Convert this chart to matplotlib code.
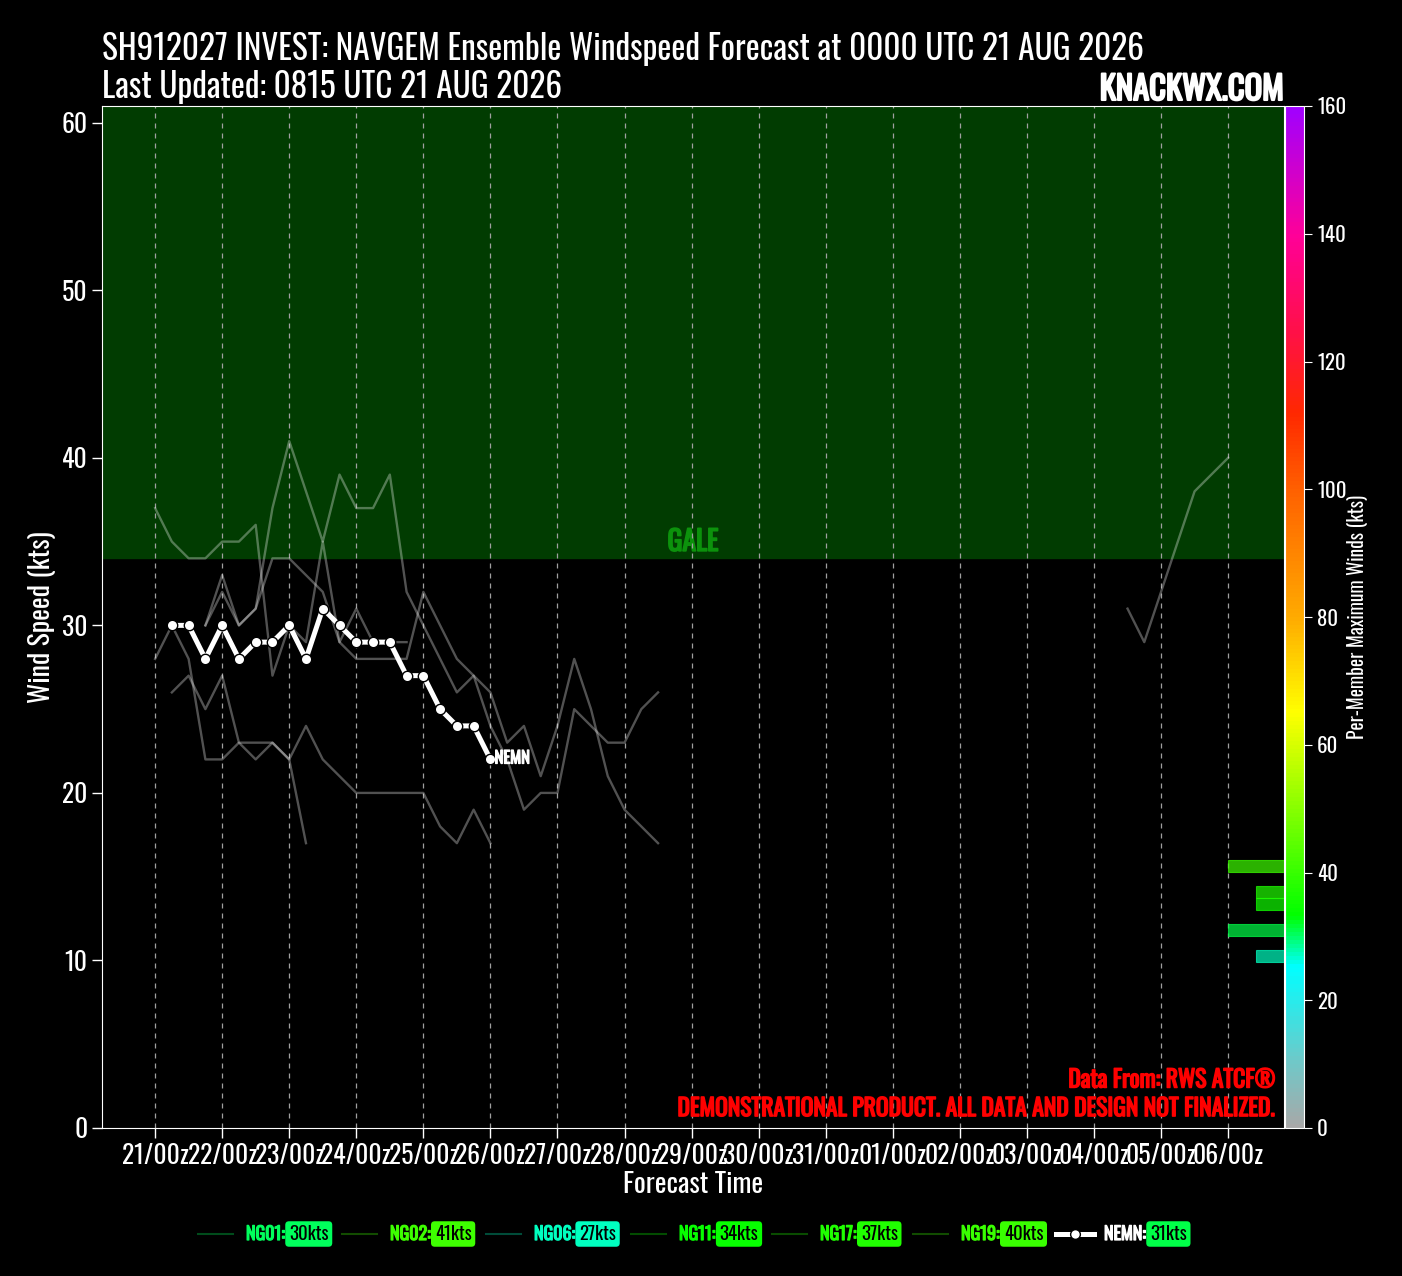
import numpy as np
import matplotlib
matplotlib.use('Agg')
import matplotlib.pyplot as plt
from matplotlib import font_manager as fm
from matplotlib.colors import LinearSegmentedColormap, Normalize
from matplotlib.lines import Line2D
import matplotlib.colorbar as mcolorbar
import matplotlib.patheffects as pe

# ---------------- data ----------------
member_names = ['NG01', 'NG02', 'NG06', 'NG11', 'NG17', 'NG19']
member_start = [0, 18, 6, 18, 0, 348]          # first forecast hour of each member
ng01 = [28, 30, 28, 22, 22, 23, 22, 23, 22, 17]
ng02 = [30, 32, 30, 31, 37, 41, 38, 35, 39, 37, 37, 39, 32, 30, 28, 26, 27, 24,
        22, 19, 20, 20, 25, 24, 23, 23, 25, 26]
ng06 = [26, 27, 25, 27, 23, 23, 23, 22, 24, 22, 21, 20, 20, 20, 20, 20, 18, 17, 19, 17]
ng11 = [30, 33, 30, 31, 34, 34, 33, 32, 29, 28, 28, 28, 28, 32, 30, 28, 27, 26,
        23, 24, 21, 24, 28, 25, 21, 19, 18, 17]
ng17 = [37, 35, 34, 34, 35, 35, 36, 27, 30, 29, 35, 29, 31, 29, 29, 29]
ng19 = [31, 29, 32, 35, 38, 39, 40]
member_winds = [ng01, ng02, ng06, ng11, ng17, ng19]

nemn_start = 6
nemn = [30, 30, 28, 30, 28, 29, 29, 30, 28, 31, 30, 29, 29, 29, 27, 27, 25, 24, 24, 22]

step_h = 6
day_labels = ['21/00z', '22/00z', '23/00z', '24/00z', '25/00z', '26/00z', '27/00z',
              '28/00z', '29/00z', '30/00z', '31/00z', '01/00z', '02/00z', '03/00z',
              '04/00z', '05/00z', '06/00z']
gale_threshold = 34
y_max = 61
cbar_max = 160
hist_bin = 2

title1 = 'SH912027 INVEST: NAVGEM Ensemble Windspeed Forecast at 0000 UTC 21 AUG 2026'
title2 = 'Last Updated: 0815 UTC 21 AUG 2026'

# ---------------- fonts ----------------
ttf = fm.fontManager.ttflist
names = {f.name for f in ttf}
FONT = None
STRETCH = 'normal'
for c in ['Oswald', 'Roboto Condensed', 'Open Sans Condensed', 'Liberation Sans Narrow',
          'Noto Sans Condensed', 'DejaVu Sans Condensed']:
    if c in names:
        FONT = c
        break
if FONT is None:
    for fam in ['Roboto', 'Noto Sans', 'Open Sans', 'DejaVu Sans']:
        if any(f.name == fam and str(f.stretch) in ('condensed', 'semi-condensed',
                                                     'extra-condensed') for f in ttf):
            FONT = fam
            STRETCH = 'condensed'
            break
if FONT is None:
    FONT = 'Roboto' if 'Roboto' in names else 'DejaVu Sans'

plt.rcParams['font.family'] = [FONT, 'DejaVu Sans']
plt.rcParams['font.stretch'] = STRETCH

HAS_BOLD = any(f.name == FONT and isinstance(f.weight, (int, float)) and f.weight >= 600
               for f in ttf) or any(f.name == FONT and str(f.weight) in ('bold', 'heavy', 'black', 'semibold', 'demibold') for f in ttf)


def bold(color, w=1.2):
    if HAS_BOLD:
        return dict(fontweight='bold')
    return dict(path_effects=[pe.withStroke(linewidth=w, foreground=color)])


# ---------------- colormap ----------------
stops = [(0, '#a8a8a8'), (10, '#70c8c8'), (25, '#00ffff'), (33, '#00ff00'),
         (65, '#ffff00'), (80, '#ffaa00'), (100, '#ff6000'), (112, '#ff2800'),
         (125, '#ff1048'), (140, '#ff0098'), (160, '#a000ff')]
cmap = LinearSegmentedColormap.from_list('wind', [(v / cbar_max, c) for v, c in stops])
norm = Normalize(0, cbar_max)

# ---------------- figure ----------------
fig = plt.figure(figsize=(14.02, 12.76), dpi=100, facecolor='black')
L, R, B, T = 102 / 1402, 1284 / 1402, 1 - 1128 / 1276, 1 - 106 / 1276
ax = fig.add_axes([L, B, R - L, T - B])
ax.set_facecolor('black')
cax = fig.add_axes([R + 1 / 1402, B, 19 / 1402, T - B])

last_hour = (len(day_labels) - 1) * 24
x_right = last_hour + 20
ax.set_xlim(-19, x_right)
ax.set_ylim(0, y_max)

ax.axhspan(gale_threshold, y_max, color='#013c01', zorder=0)
ax.text((-19 + x_right) / 2, gale_threshold + 0.15, 'GALE', color='#0c920c',
        fontsize=20, ha='center', va='bottom', zorder=1, **bold('#0c920c', 1.2))

for h in range(0, last_hour + 1, 24):
    ax.axvline(h, color='#a0a0a0', lw=0.9, ls=(0, (4, 4)), zorder=1)

for start, w in zip(member_start, member_winds):
    hrs = start + step_h * np.arange(len(w))
    ax.plot(hrs, w, color='white', alpha=0.32, lw=1.7, zorder=2)

nh = nemn_start + step_h * np.arange(len(nemn))
ax.plot(nh, nemn, color='white', lw=3.6, marker='o', markersize=7.5,
        markerfacecolor='white', markeredgecolor='black', markeredgewidth=1.0, zorder=5)
ax.annotate('NEMN', (nh[-1], nemn[-1]), xytext=(3, 1), textcoords='offset points',
            color='white', fontsize=12, ha='left', va='center', zorder=6,
            **bold('white', 0.9))

# histogram of per-member maxima on the colorbar scale
maxima = [max(w) for w in member_winds] + [max(nemn)]
counts, edges = np.histogram(maxima, bins=np.arange(0, cbar_max + hist_bin, hist_bin))
scale = y_max / cbar_max
for cnt, e0 in zip(counts, edges[:-1]):
    if cnt == 0:
        continue
    ctr = e0 + hist_bin / 2
    col = cmap(norm(ctr))
    ax.barh(ctr * scale, cnt * 10, height=hist_bin * scale * 0.94, left=x_right - cnt * 10,
            color=col, alpha=0.7, edgecolor=col, linewidth=0.8, zorder=4)

ax.set_xticks(range(0, last_hour + 1, 24))
ax.set_xticklabels(day_labels)
ax.set_yticks(range(0, 61, 10))
ax.tick_params(axis='both', colors='white', labelsize=18.5, length=7, width=1)
ax.tick_params(axis='x', pad=4)
for lab in ax.get_xticklabels() + ax.get_yticklabels():
    lab.set_fontweight('light')
for sp in ax.spines.values():
    sp.set_color('white')
ax.set_xlabel('Forecast Time', color='white', fontsize=20, labelpad=1)
ax.set_ylabel('Wind Speed (kts)', color='white', fontsize=20, labelpad=4)

# colorbar
cb = mcolorbar.ColorbarBase(cax, cmap=cmap, norm=norm, orientation='vertical')
cb.set_ticks(range(0, cbar_max + 1, 20))
cb.outline.set_edgecolor('white')
cax.tick_params(colors='white', labelsize=15, length=6)
for lab in cax.get_yticklabels():
    lab.set_fontweight('light')
cb.set_label('Per-Member Maximum Winds (kts)', color='white', fontsize=14, labelpad=0)

# titles
fig.text(L, 1 - 60 / 1276, title1, color='white', fontsize=24, ha='left', va='baseline')
fig.text(L, 1 - 98 / 1276, title2, color='white', fontsize=24, ha='left', va='baseline')
fig.text(R, 1 - 100 / 1276, 'KNACKWX.COM', color='white', fontsize=23.5,
         ha='right', va='baseline', **bold('white', 1.5))

# data source notes
ax.text(0.993, 0.047, 'Data From: RWS ATCF®', transform=ax.transAxes, color='#ff0000',
        fontsize=17, ha='right', va='center', **bold('#ff0000', 1.1))
ax.text(0.993, 0.019, 'DEMONSTRATIONAL PRODUCT. ALL DATA AND DESIGN NOT FINALIZED.',
        transform=ax.transAxes, color='#ff0000', fontsize=17,
        ha='right', va='center', **bold('#ff0000', 1.1))

# custom legend
ly = 1 - 1234 / 1276
entry_x = [198, 342, 486, 631, 772, 913, 1056]
labels = member_names + ['NEMN']
fig.canvas.draw()
renderer = fig.canvas.get_renderer()
for i, (name, mx) in enumerate(zip(labels, maxima)):
    x0 = entry_x[i] / 1402
    col = cmap(norm(mx))
    if name == 'NEMN':
        fig.add_artist(Line2D([x0, x0 + 38 / 1402], [ly, ly], color='white', lw=3.6,
                              transform=fig.transFigure))
        fig.add_artist(Line2D([x0 + 19 / 1402], [ly], color='white', marker='o',
                              markersize=7, markeredgecolor='black', lw=0,
                              transform=fig.transFigure))
        tcol = 'white'
    else:
        fig.add_artist(Line2D([x0, x0 + 35 / 1402], [ly, ly], color=col, alpha=0.3, lw=1.5,
                              transform=fig.transFigure))
        tcol = col
    t = fig.text(x0 + 48 / 1402, ly, name + ':', color=tcol, fontsize=13,
                 ha='left', va='center', **bold(tcol, 0.9))
    bb = t.get_window_extent(renderer)
    fig.text(bb.x1 / 1402 + 4 / 1402, ly, f'{mx}kts', color='black', fontsize=13.5,
             ha='left', va='center',
             bbox=dict(boxstyle='round,pad=0.2,rounding_size=0.2', fc=col, ec='none'))

fig.savefig('out.png', dpi=100, facecolor='black')
